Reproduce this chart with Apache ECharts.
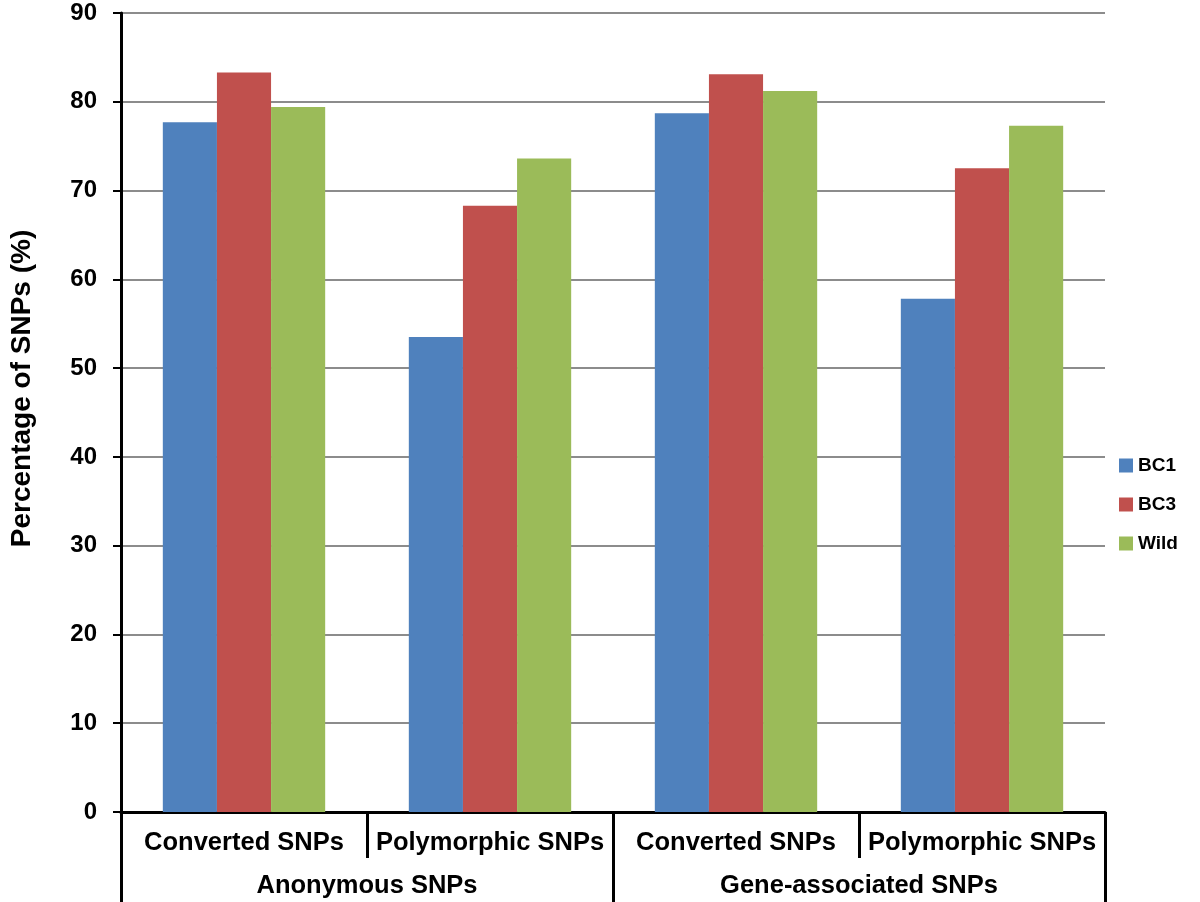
<!DOCTYPE html>
<html>
<head>
<meta charset="utf-8">
<script src="https://cdn.jsdelivr.net/npm/echarts@6/dist/echarts.min.js"></script>
<style>
  html, body { margin: 0; padding: 0; background: #fff; }
  #chart { width: 1200px; height: 902px; }
</style>
</head>
<body>
<div id="chart"></div>
<script>
// categories (inner level and outer level)
var subCategories = ["Converted SNPs", "Polymorphic SNPs", "Converted SNPs", "Polymorphic SNPs"];
var groupCategories = ["Anonymous SNPs", "Gene-associated SNPs"];

// series values (%)
var bc1 = [77.7, 53.5, 78.7, 57.8];
var bc3 = [83.3, 68.3, 83.1, 72.5];
var wild = [79.4, 73.6, 81.2, 77.3];

var FONT = "Liberation Sans, Arial, Helvetica, sans-serif";

var chart = echarts.init(document.getElementById("chart"), null, { renderer: "canvas" });

var option = {
  backgroundColor: "#fff",
  animation: false,
  color: ["#4F81BD", "#C0504D", "#9BBB59"],
  grid: { left: 121, right: 95, top: 13, bottom: 90 },
  legend: {
    orient: "vertical",
    left: 1114,
    top: 451,
    icon: "rect",
    itemWidth: 14,
    itemHeight: 14,
    itemGap: 20,
    textStyle: { fontFamily: FONT, fontWeight: "bold", fontSize: 19, color: "#000" },
    data: ["BC1", "BC3", "Wild"]
  },
  xAxis: [
    {
      type: "category",
      data: subCategories,
      position: "bottom",
      axisLine: { show: true, lineStyle: { color: "#000", width: 3 } },
      axisTick: { show: true, interval: 0, alignWithLabel: false, length: 46, lineStyle: { color: "#000", width: 3 } },
      axisLabel: { interval: 0, margin: 18, color: "#000", fontFamily: FONT, fontWeight: "bold", fontSize: 25.5 },
      splitLine: { show: false }
    },
    {
      type: "category",
      data: groupCategories,
      position: "bottom",
      axisLine: { show: false },
      axisTick: { show: true, interval: 0, alignWithLabel: false, length: 92, lineStyle: { color: "#000", width: 3 } },
      axisLabel: { interval: 0, margin: 61, color: "#000", fontFamily: FONT, fontWeight: "bold", fontSize: 25.5 },
      splitLine: { show: false }
    }
  ],
  yAxis: {
    type: "value",
    min: 0,
    max: 90,
    interval: 10,
    name: "Percentage of SNPs (%)",
    nameLocation: "middle",
    nameGap: 85,
    nameTextStyle: { fontFamily: FONT, fontWeight: "bold", fontSize: 28, color: "#000", padding: [0, 0, 0, 48] },
    axisLine: { show: true, lineStyle: { color: "#000", width: 3 } },
    axisTick: { show: true, length: 8, lineStyle: { color: "#000", width: 2 } },
    axisLabel: { margin: 24, color: "#000", fontFamily: FONT, fontWeight: "bold", fontSize: 24 },
    splitLine: { show: true, lineStyle: { color: "#8c8c8c", width: 2 } }
  },
  series: [
    { name: "BC1", type: "bar", xAxisIndex: 0, data: bc1, barGap: "0%", barCategoryGap: "34%" },
    { name: "BC3", type: "bar", xAxisIndex: 0, data: bc3, barGap: "0%", barCategoryGap: "34%" },
    { name: "Wild", type: "bar", xAxisIndex: 0, data: wild, barGap: "0%", barCategoryGap: "34%" }
  ]
};

chart.setOption(option);
</script>
</body>
</html>
